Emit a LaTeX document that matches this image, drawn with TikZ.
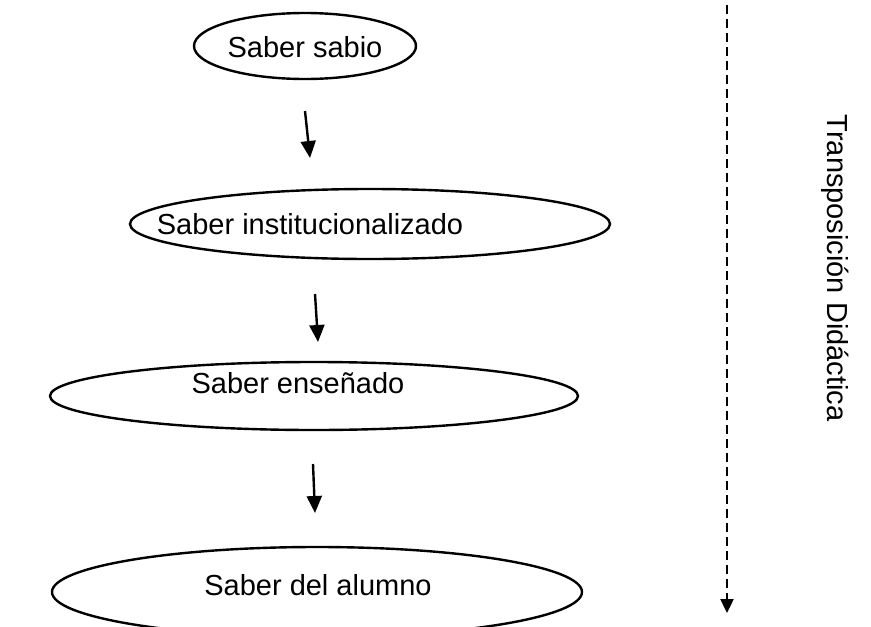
\documentclass[tikz,border=0pt]{standalone}
\usepackage{fontspec}
\setmainfont{Liberation Sans}
\usetikzlibrary{arrows.meta,shapes.geometric}
\tikzset{
	saber/.style={draw, ellipse, line width=2.4pt, inner sep=0pt},
	rotulo/.style={font=\fontsize{29}{34}\selectfont, inner sep=0pt},
	flecha/.style={line width=2.4pt, -{Triangle[width=15pt,length=17pt]}},
}

\begin{document}
\begin{tikzpicture}[x=1pt,y=-1pt]
			%%%%% START %%%%%
			\useasboundingbox (0,0) rectangle (871,627);
			
			\node[saber, minimum width=222pt, minimum height=66pt] (sabio) at (305,46) {};
			\node[rotulo] (t-sabio) at (305,47) {Saber sabio};
			
			\node[saber, minimum width=480pt, minimum height=70pt] (inst) at (370,224) {};
			\node[rotulo] (t-inst) at (310,224) {Saber institucionalizado};
			
			\node[saber, minimum width=528pt, minimum height=68pt] (ense) at (314,396) {};
			\node[rotulo] (t-ense) at (298,383) {Saber enseñado};
			
			\node[saber, minimum width=530pt, minimum height=90pt] (alum) at (317,592) {};
			\node[rotulo] (t-alum) at (318,585) {Saber del alumno};
			
			\coordinate (f1) at (305,111);
			\coordinate (f2) at (310,158);
			\draw[flecha] (f1) -- (f2);
			\coordinate (f3) at (315,294);
			\coordinate (f4) at (318,342);
			\draw[flecha] (f3) -- (f4);
			\coordinate (f5) at (313,464);
			\coordinate (f6) at (315,513);
			\draw[flecha] (f5) -- (f6);
			
			\coordinate (td-a) at (727,5);
			\coordinate (td-b) at (727,613);
			\draw[line width=2.4pt, dash pattern=on 9pt off 5pt, -{Triangle[width=13pt,length=14pt]}] (td-a) -- (td-b);
			\node[rotulo, rotate=-90] (td) at (835,268) {Transposición Didáctica};
			
			%%%%% END %%%%%
\end{tikzpicture}
\end{document}
